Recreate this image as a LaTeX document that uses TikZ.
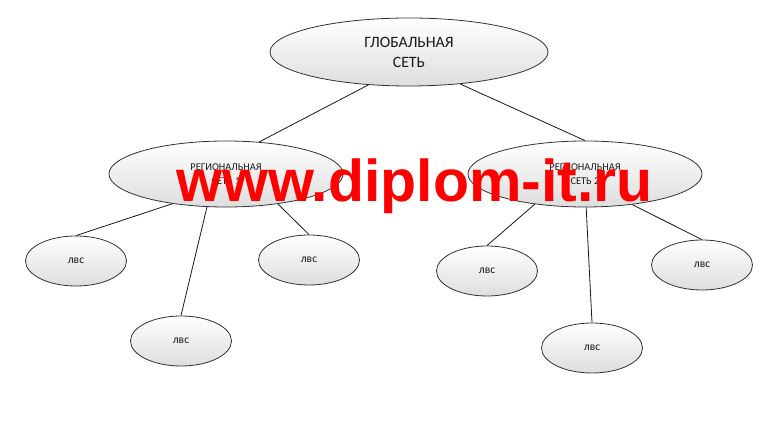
\documentclass[tikz,border=0pt]{standalone}
\usepackage{fontspec}
\setmainfont{Carlito}
\newfontfamily\wmfont{Liberation Sans}
\usetikzlibrary{shapes.geometric}
\tikzset{
  bubble/.style={ellipse, draw=black!80, line width=0.8pt, inner sep=0pt,
    top color=white, bottom color=black!13, align=center, text=black!90},
  globalnode/.style={bubble, minimum width=278pt, minimum height=68pt,
    font=\fontsize{15.8}{20}\selectfont},
  regnode/.style={bubble, minimum width=234pt, minimum height=66pt,
    font=\fontsize{10.4}{14}\selectfont},
  lannode/.style={bubble, minimum width=101pt, minimum height=50pt,
    font=\fontsize{11.5}{13}\selectfont},
  link/.style={draw=black!90, line width=0.8pt},
}
\begin{document}
\begin{tikzpicture}[x=1pt,y=-1pt]
\useasboundingbox (0,0) rectangle (763,427);
\fill[white] (0,0) rectangle (763,427);
\node[globalnode] (g) at (409,52) {ГЛОБАЛЬНАЯ\\СЕТЬ};
\node[regnode] (r1) at (226,174) {РЕГИОНАЛЬНАЯ\\СЕТЬ 1};
\node[regnode] (r2) at (585,174) {РЕГИОНАЛЬНАЯ\\СЕТЬ 2};
\node[lannode] (a1) at (76,261) {лвс};
\node[lannode] (a2) at (181,341) {лвс};
\node[lannode] (a3) at (309,260) {лвс};
\node[lannode] (b1) at (487,271) {лвс};
\node[lannode] (b2) at (592,348) {лвс};
\node[lannode] (b3) at (702,265) {лвс};
\draw[link] (g.219) -- (r1.44);
\draw[link] (g.328) -- (r2.north);
\draw[link] (r1.209) -- (a1.north);
\draw[link] (r1.240) -- (a2.north);
\draw[link] (r1.330) -- (a3.north);
\draw[link] (r2.211) -- (b1.north);
\draw[link] (r2.272) -- (b2.north);
\draw[link] (r2.327) -- (b3.north);
% watermark
\node[anchor=base west, inner sep=0pt, text=red, font=\wmfont\bfseries\fontsize{59}{60}\selectfont] (wm) at (176,202) {www.diplom-it.ru};
\end{tikzpicture}
\end{document}
